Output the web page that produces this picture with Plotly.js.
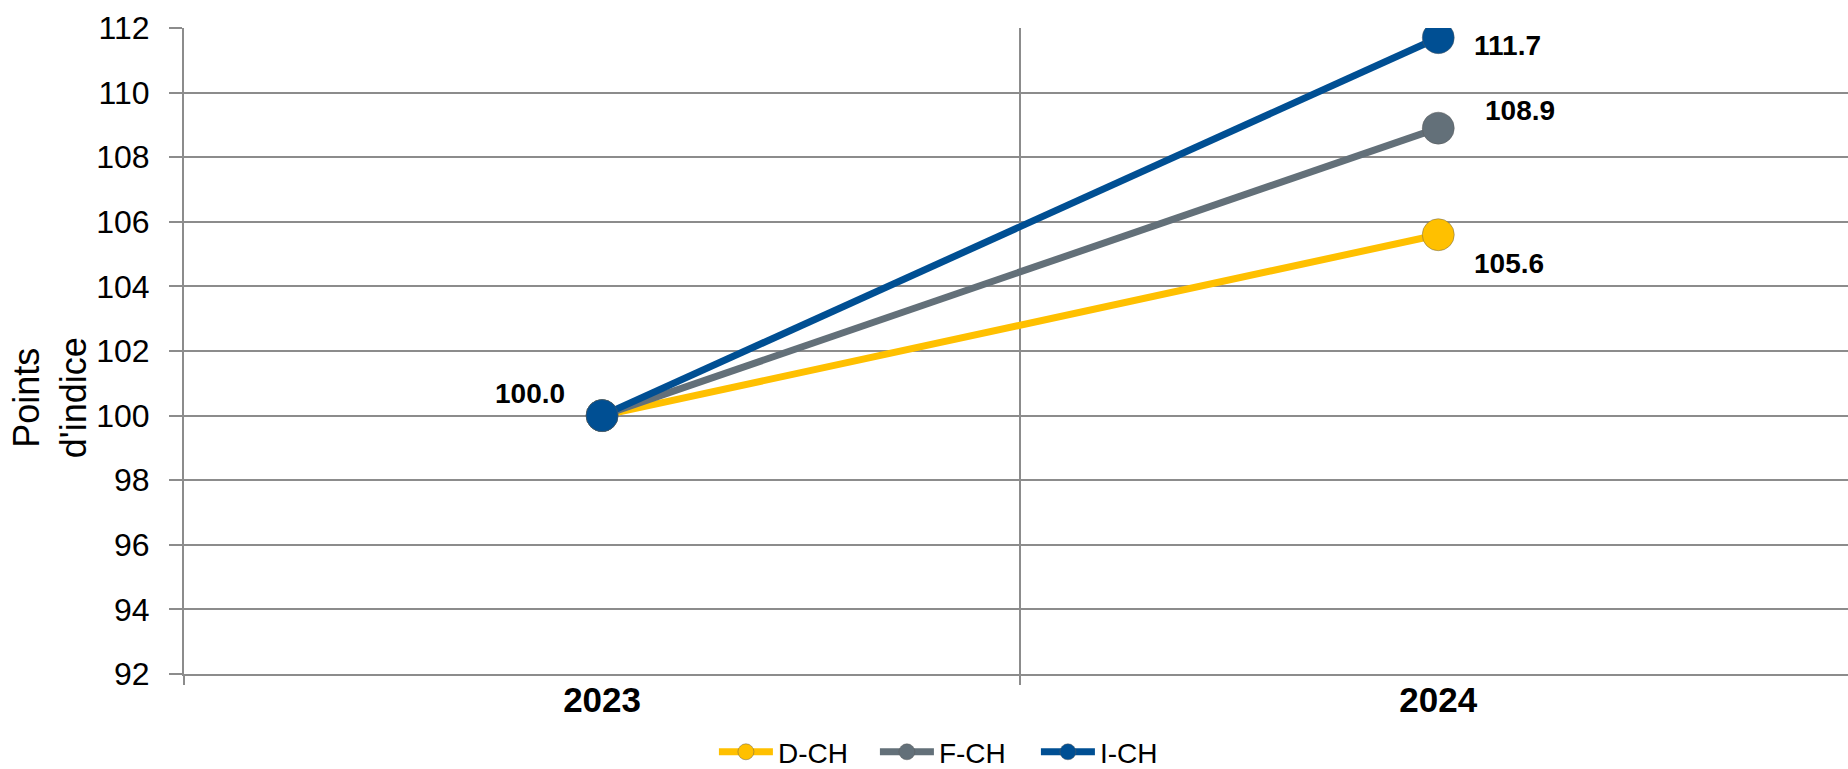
<!DOCTYPE html>
<html>
<head>
<meta charset="utf-8">
<script src="https://cdn.plot.ly/plotly-3.0.1.min.js"></script>
<style>html,body{margin:0;padding:0;background:#fff;}#chart{width:1848px;height:769px;}</style>
</head>
<body>
<div id="chart"></div>
<script>
const years = ['2023', '2024'];
const seriesNames = ['D-CH', 'F-CH', 'I-CH'];
const dch = [100.0, 105.6];
const fch = [100.0, 108.9];
const ich = [100.0, 111.7];
const yTicks = [92, 94, 96, 98, 100, 102, 104, 106, 108, 110, 112];
const colors = ['#FFC000', '#637079', '#004F93'];

const allSeries = [dch, fch, ich];
const traces = allSeries.map((vals, i) => ({
  type: 'scatter',
  mode: 'lines+markers',
  name: seriesNames[i],
  x: years,
  y: vals,
  line: {color: colors[i], width: 7},
  marker: {color: colors[i], size: 32, line: {color: 'rgba(90,90,90,0.45)', width: 1}},
  hoverinfo: 'x+y+name'
}));

// data labels: [seriesIndex, pointIndex, xanchor, xshift, yshift]
const labelSpec = [
  [2, 0, 'right', -35, 22],
  [0, 1, 'left', 34, -29],
  [1, 1, 'left', 45, 18],
  [2, 1, 'left', 34, -8]
];
const annotations = labelSpec.map(([s, p, xa, xs, ys]) => ({
  xref: 'x', yref: 'y', x: p, y: allSeries[s][p],
  text: '<b>' + allSeries[s][p].toFixed(1) + '</b>',
  showarrow: false, xanchor: xa, yanchor: 'middle', xshift: xs, yshift: ys,
  font: {family: 'Liberation Sans, Arial, sans-serif', size: 28, color: '#000'}
}));
annotations.push({
  xref: 'paper', yref: 'paper', x: -0.0805, y: 0.427,
  text: "Points<br>d'indice", textangle: -90, showarrow: false,
  xanchor: 'center', yanchor: 'middle',
  font: {family: 'Liberation Sans, Arial, sans-serif', size: 36, color: '#000'}
});

const layout = {
  width: 1848, height: 769,
  margin: {l: 184, r: 0, t: 28, b: 95, autoexpand: false},
  paper_bgcolor: '#fff', plot_bgcolor: '#fff',
  showlegend: true,
  legend: {
    orientation: 'h', xref: 'container', yref: 'container',
    x: 0.517, xanchor: 'center', y: 0.022, yanchor: 'middle',
    font: {family: 'Liberation Sans, Arial, sans-serif', size: 28, color: '#000'},
    entrywidth: 92, entrywidthmode: 'pixels', itemwidth: 54, traceorder: 'normal'
  },
  xaxis: {
    type: 'category', range: [-0.5, 1.49],
    tickson: 'boundaries', ticks: 'outside', ticklen: 9, tickwidth: 2, tickcolor: '#8c8c8c',
    showgrid: true, gridcolor: '#8c8c8c', gridwidth: 2,
    showline: true, linecolor: '#8c8c8c', linewidth: 2,
    tickfont: {family: 'Liberation Sans, Arial, sans-serif', size: 35, color: '#000', weight: 'bold'},
    ticklabelstandoff: -6,
    zeroline: false, fixedrange: true
  },
  yaxis: {
    range: [92, 112], tickvals: yTicks, ticktext: yTicks.map(String),
    ticks: 'outside', ticklen: 13, tickwidth: 2, tickcolor: '#8c8c8c',
    showgrid: true, gridcolor: '#8c8c8c', gridwidth: 2,
    showline: true, linecolor: '#8c8c8c', linewidth: 2,
    tickfont: {family: 'Liberation Sans, Arial, sans-serif', size: 32, color: '#000'},
    ticklabelstandoff: 13,
    zeroline: false, fixedrange: true
  },
  annotations: annotations
};

Plotly.newPlot('chart', traces, layout, {displayModeBar: false, staticPlot: true});
</script>
</body>
</html>
